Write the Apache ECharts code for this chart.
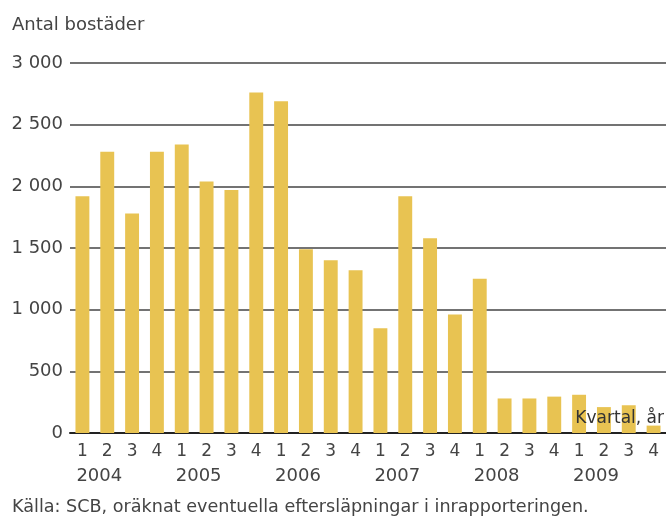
<!DOCTYPE html>
<html><head><meta charset="utf-8">
<script src="https://cdn.jsdelivr.net/npm/echarts@6/dist/echarts.min.js"></script>
<style>html,body{margin:0;padding:0;background:#fff}#c{width:666px;height:517px}</style>
</head><body><div id="c"></div>
<script>
var quarters = ['1','2','3','4','1','2','3','4','1','2','3','4','1','2','3','4','1','2','3','4','1','2','3','4'];
var years = ['2004','','','','2005','','','','2006','','','','2007','','','','2008','','','','2009','','',''];
var values = [1920,2280,1780,2280, 2340,2040,1970,2760, 2690,1490,1400,1320, 850,1920,1580,960, 1250,280,280,295, 310,210,225,60];
var yTicks = [0,500,1000,1500,2000,2500,3000];

var FONT = 'DejaVu Sans';
var chart = echarts.init(document.getElementById('c'));
var cats = quarters.map(function(q,i){return i+'';});
chart.setOption({
  animation:false,
  textStyle:{fontFamily:FONT},
  grid:{left:70,right:-2,top:63,bottom:84},
  xAxis:[{
    type:'category', data:cats, position:'bottom',
    axisLine:{lineStyle:{color:'#222',width:2}}, axisTick:{show:false},
    axisLabel:{interval:0,margin:10,fontSize:17,color:'#444',fontFamily:FONT,
      formatter:function(v){return quarters[+v];}}
  },{
    type:'category', data:cats, position:'bottom', offset:0,
    axisLine:{show:false}, axisTick:{show:false},
    axisLabel:{interval:0,margin:34,fontSize:18,color:'#444',fontFamily:FONT,align:'left',padding:[0,0,0,-6],
      formatter:function(v){return years[+v];}}
  }],
  yAxis:{type:'value',min:0,max:3000,interval:500,
    axisLine:{show:false},axisTick:{show:false},
    splitLine:{lineStyle:{color:'#444',width:1.5}},
    axisLabel:{margin:7,fontSize:18,color:'#444',fontFamily:FONT,
      formatter:function(v){return yTicks.indexOf(v)>=0 ? (v>=1000? Math.floor(v/1000)+' '+String(v%1000).padStart(3,'0') : String(v)) : '';}}
  },
  series:[{type:'bar',data:values,barWidth:'56%',itemStyle:{color:'#E8C352'},xAxisIndex:0,z:2}],
  graphic:[
    {type:'text',x:12,y:25,z:100,style:{text:'Antal bostäder',fontSize:18,fill:'#444',fontFamily:FONT,verticalAlign:'middle'}},
    {type:'text',x:12,y:507,z:100,style:{text:'Källa: SCB, oräknat eventuella eftersläpningar i inrapporteringen.',fontSize:17.6,fill:'#444',fontFamily:FONT,verticalAlign:'middle'}},
    {type:'text',x:664,y:419,z:100,style:{text:'Kvartal, år',fontSize:17,fill:'#333',fontFamily:FONT,align:'right',verticalAlign:'middle'}}
  ]
});
</script></body></html>
